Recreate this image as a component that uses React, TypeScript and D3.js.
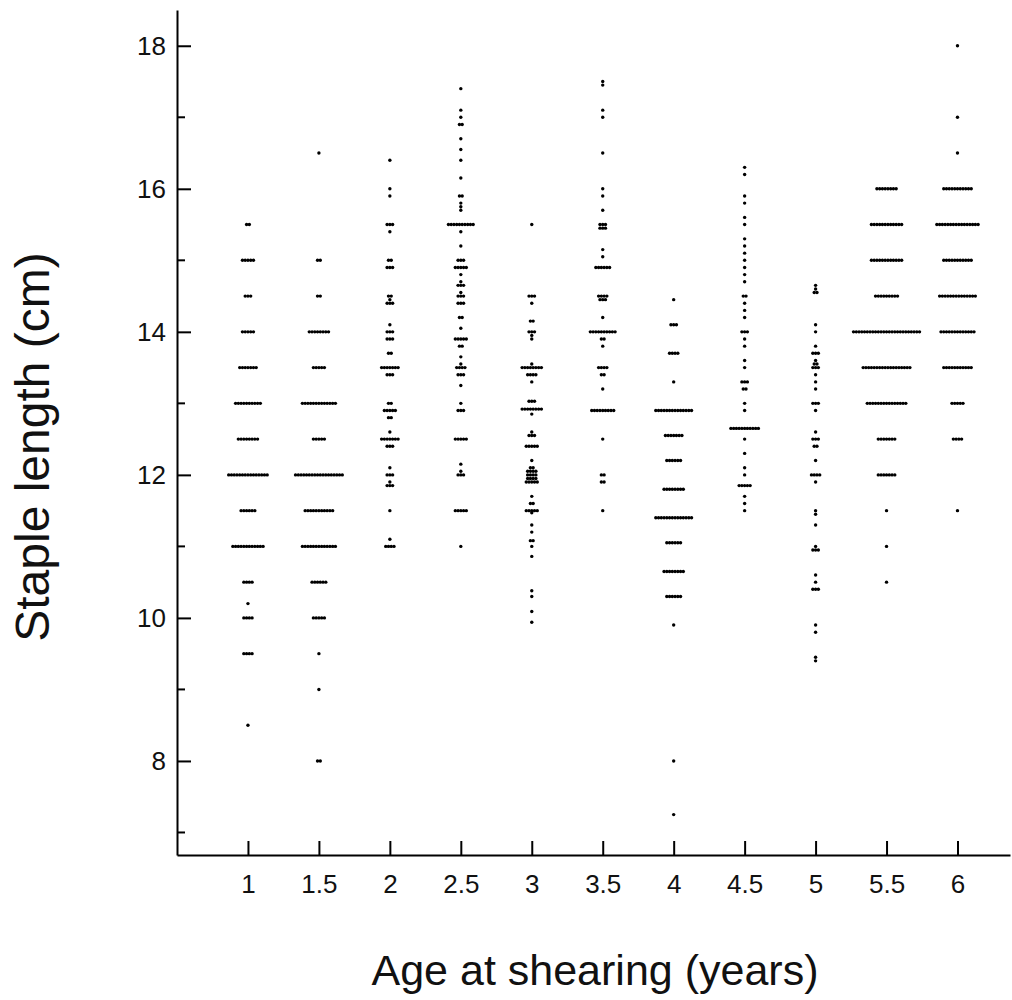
import React, { useEffect, useRef } from 'react';
import * as d3 from 'd3';

// age groups (years) on the x axis
const ages = [1, 1.5, 2, 2.5, 3, 3.5, 4, 4.5, 5, 5.5, 6];

// staple length (cm) and number of sheep at that length, one list per age
const age1 = [[15.5, 2], [15, 5], [14.5, 3], [14, 5], [13.5, 7], [13, 10], [12.5, 8], [12, 15], [11.5, 6], [11, 12], [10.5, 4], [10.2, 1], [10, 4], [9.5, 4], [8.5, 1]];
const age15 = [[16.5, 1], [15, 2], [14.5, 2], [14, 8], [13.5, 5], [13, 13], [12.5, 5], [12, 18], [11.5, 11], [11, 13], [10.5, 6], [10, 5], [9.5, 1], [9, 1], [8, 2]];
const age2 = [[16.4, 1], [16, 1], [15.9, 1], [15.5, 3], [15.4, 1], [15, 2], [14.9, 3], [14.5, 2], [14.45, 1], [14.4, 3], [14.1, 1], [14, 3], [13.9, 3], [13.7, 2], [13.5, 7], [13.4, 3], [13, 2], [12.9, 5], [12.8, 2], [12.6, 1], [12.5, 7], [12.4, 3], [12.1, 1], [12, 3], [11.9, 1], [11.85, 3], [11.5, 1], [11.1, 1], [11, 4]];
const age25 = [[17.4, 1], [17.1, 1], [17, 1], [16.9, 2], [16.7, 1], [16.55, 1], [16.4, 1], [16.15, 1], [15.9, 2], [15.8, 1], [15.75, 1], [15.7, 1], [15.5, 10], [15.4, 1], [15.2, 1], [15, 3], [14.9, 5], [14.8, 1], [14.7, 1], [14.65, 3], [14.55, 1], [14.5, 3], [14.4, 3], [14.2, 2], [14.05, 1], [13.9, 5], [13.8, 2], [13.65, 1], [13.55, 1], [13.5, 4], [13.4, 3], [13.25, 1], [13, 1], [12.9, 3], [12.5, 5], [12.15, 1], [12.05, 1], [12, 3], [11.5, 5], [11, 1]];
const age3 = [[15.5, 1], [14.5, 3], [14.4, 1], [14.15, 2], [14, 3], [13.95, 1], [13.9, 1], [13.55, 1], [13.5, 8], [13.4, 4], [13.3, 1], [13.03, 3], [12.92, 8], [12.85, 1], [12.6, 1], [12.55, 3], [12.4, 5], [12.2, 1], [12.1, 2], [12.05, 4], [12, 4], [11.95, 4], [11.9, 5], [11.7, 1], [11.6, 2], [11.5, 5], [11.47, 1], [11.3, 1], [11.2, 1], [11.08, 2], [11, 1], [10.86, 1], [10.38, 1], [10.3, 1], [10.09, 1], [9.94, 1]];
const age35 = [[17.5, 1], [17.45, 1], [17.1, 1], [17, 1], [16.5, 1], [16, 1], [15.9, 1], [15.7, 1], [15.5, 3], [15.45, 3], [15.15, 1], [15.05, 1], [14.9, 6], [14.5, 4], [14.45, 3], [14.2, 1], [14, 10], [13.9, 2], [13.8, 1], [13.5, 4], [13.4, 2], [13.2, 1], [12.9, 9], [12.5, 1], [12, 2], [11.9, 2], [11.5, 1]];
const age4 = [[14.45, 1], [14.1, 3], [13.7, 4], [13.3, 1], [12.9, 14], [12.55, 7], [12.2, 6], [11.8, 8], [11.4, 14], [11.05, 6], [10.65, 8], [10.3, 6], [9.9, 1], [8, 1], [7.25, 1]];
const age45 = [[16.3, 1], [16.2, 1], [15.9, 1], [15.8, 1], [15.6, 1], [15.5, 1], [15.3, 1], [15.2, 1], [15.1, 1], [15, 1], [14.9, 1], [14.8, 1], [14.7, 1], [14.5, 2], [14.4, 1], [14.3, 1], [14.2, 1], [14, 3], [13.9, 1], [13.8, 1], [13.6, 1], [13.5, 1], [13.3, 3], [13.2, 2], [13, 1], [12.9, 1], [12.65, 11], [12.5, 1], [12.3, 1], [12.1, 1], [12, 1], [11.85, 5], [11.7, 1], [11.6, 1], [11.5, 1]];
const age5 = [[14.65, 1], [14.6, 1], [14.55, 2], [14.1, 1], [14, 1], [13.8, 1], [13.7, 3], [13.6, 1], [13.55, 2], [13.5, 3], [13.4, 1], [13.3, 1], [13.2, 1], [13, 3], [12.9, 1], [12.6, 1], [12.5, 3], [12.4, 2], [12.2, 1], [12, 4], [11.9, 1], [11.5, 1], [11.45, 1], [11.3, 1], [11, 1], [10.95, 3], [10.6, 1], [10.5, 1], [10.4, 3], [9.9, 1], [9.8, 1], [9.45, 1], [9.4, 1]];
const age55 = [[16, 8], [15.5, 12], [15, 12], [14.5, 9], [14, 25], [13.5, 18], [13, 15], [12.5, 7], [12, 7], [11.5, 1], [11, 1], [10.5, 1]];
const age6 = [[18, 1], [17, 1], [16.5, 1], [16, 11], [15.5, 16], [15, 11], [14.5, 14], [14, 13], [13.5, 11], [13, 5], [12.5, 4], [11.5, 1]];

const groups = [age1, age15, age2, age25, age3, age35, age4, age45, age5, age55, age6];

const yMajor = [8, 10, 12, 14, 16, 18];
const yMinor = [7, 9, 11, 13, 15, 17];

const width = 1012;
const height = 1000;

function App() {
  const ref = useRef<SVGSVGElement>(null);

  useEffect(() => {
    const svg = d3.select(ref.current);
    svg.selectAll('*').remove();

    const x = d3.scaleLinear().domain([0.5, 6.37]).range([177, 1010]);
    const y = d3.scaleLinear().domain([6.685, 18.5]).range([855, 10]);
    const step = 2.75;

    // spread equal values sideways like a dot histogram
    const points: { cx: number; cy: number }[] = [];
    groups.forEach((g, gi) => {
      g.forEach(([v, n]) => {
        for (let i = 0; i < n; i++) {
          points.push({ cx: x(ages[gi]) + (i - (n - 1) / 2) * step, cy: y(v) });
        }
      });
    });

    svg.append('g')
      .selectAll('circle')
      .data(points)
      .enter().append('circle')
      .attr('cx', d => d.cx)
      .attr('cy', d => d.cy)
      .attr('r', 1.7)
      .attr('fill', '#000');

    const font = '"Liberation Sans", Arial, sans-serif';

    // y axis, ticks point inward
    const yAxis = svg.append('g')
      .attr('transform', 'translate(177,0)')
      .call(d3.axisLeft(y).tickValues(yMajor).tickSizeInner(-14).tickSizeOuter(0).tickPadding(11).tickFormat(d3.format('d')));
    yAxis.append('g')
      .selectAll('line')
      .data(yMinor)
      .enter().append('line')
      .attr('x1', 0).attr('x2', 8)
      .attr('y1', d => y(d)).attr('y2', d => y(d))
      .attr('stroke', '#000').attr('stroke-width', 2);

    // x axis
    const xAxis = svg.append('g')
      .attr('transform', 'translate(0,855)')
      .call(d3.axisBottom(x).tickValues(ages).tickSizeInner(-14).tickSizeOuter(0).tickPadding(20).tickFormat(d => String(d)));

    [yAxis, xAxis].forEach(a => {
      a.select('.domain').attr('stroke', '#000').attr('stroke-width', 2);
      a.selectAll('.tick line').attr('stroke', '#000').attr('stroke-width', 2);
      a.selectAll('text').attr('font-family', font).attr('font-size', 26).attr('fill', '#111');
    });

    svg.append('text')
      .attr('transform', 'translate(49,447) rotate(-90)')
      .attr('text-anchor', 'middle')
      .attr('font-family', font)
      .attr('font-size', 48)
      .attr('fill', '#111')
      .text('Staple length (cm)');

    svg.append('text')
      .attr('x', 595)
      .attr('y', 985)
      .attr('text-anchor', 'middle')
      .attr('font-family', font)
      .attr('font-size', 43)
      .attr('fill', '#111')
      .text('Age at shearing (years)');
  }, []);

  return (
    <svg ref={ref} width={width} height={height}
      style={{ position: 'absolute', left: 0, top: 0, background: '#fff' }} />
  );
}

export default App;
